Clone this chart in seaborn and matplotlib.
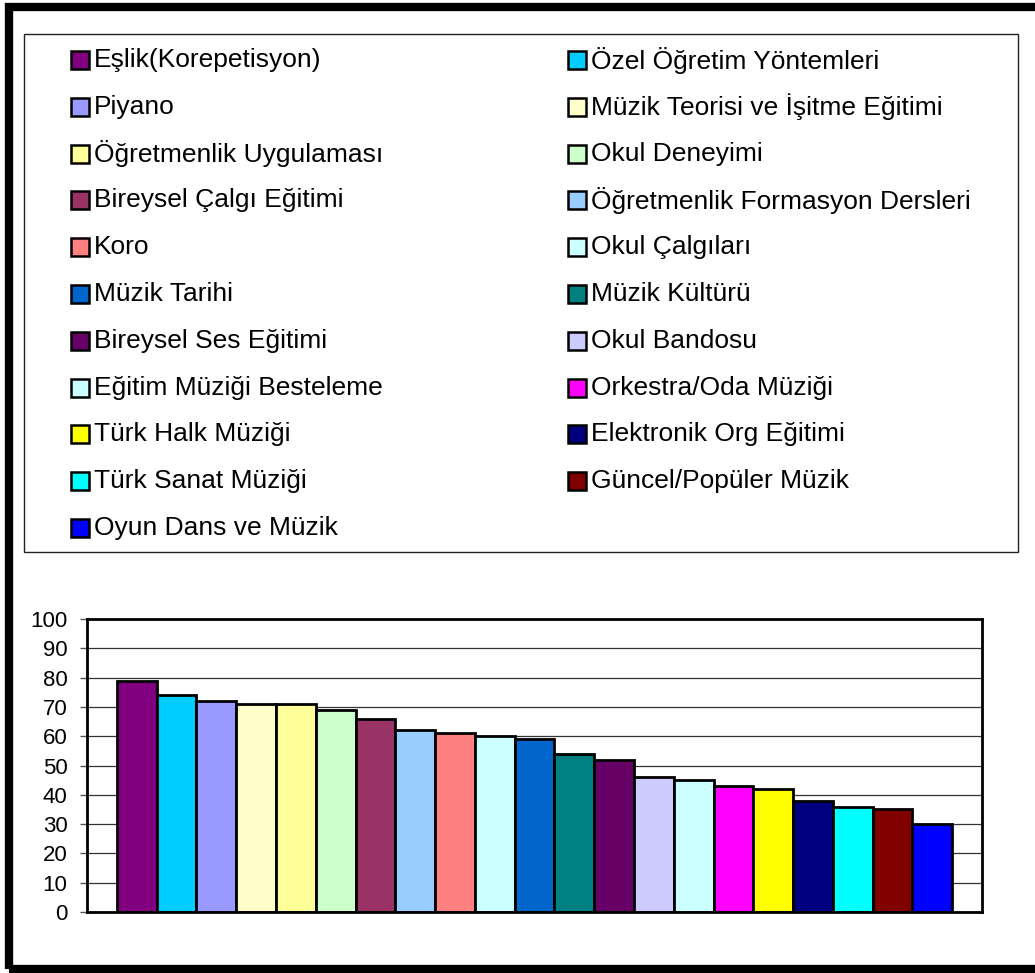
import matplotlib
matplotlib.use('Agg')
import matplotlib.pyplot as plt
from matplotlib.patches import Rectangle
import seaborn as sns

# Data
subjects = ['Eşlik(Korepetisyon)', 'Özel Öğretim Yöntemleri', 'Piyano',
            'Müzik Teorisi ve İşitme Eğitimi', 'Öğretmenlik Uygulaması', 'Okul Deneyimi',
            'Bireysel Çalgı Eğitimi', 'Öğretmenlik Formasyon Dersleri', 'Koro',
            'Okul Çalgıları', 'Müzik Tarihi', 'Müzik Kültürü', 'Bireysel Ses Eğitimi',
            'Okul Bandosu', 'Eğitim Müziği Besteleme', 'Orkestra/Oda Müziği',
            'Türk Halk Müziği', 'Elektronik Org Eğitimi', 'Türk Sanat Müziği',
            'Güncel/Popüler Müzik', 'Oyun Dans ve Müzik']
values = [79, 74, 72, 71, 71, 69, 66, 62, 61, 60, 59, 54, 52, 46, 45, 43, 42, 38, 36, 35, 30]
colors = ['#800080', '#00CCFF', '#9999FF', '#FFFFCC', '#FFFF99', '#CCFFCC',
          '#993366', '#99CCFF', '#FF8080', '#CCFFFF', '#0066CC', '#008080',
          '#660066', '#CCCCFF', '#CCFFFF', '#FF00FF', '#FFFF00', '#000080',
          '#00FFFF', '#800000', '#0000FF']
y_ticks = list(range(0, 101, 10))

sns.set_style('white')
plt.rcParams['font.family'] = ['Liberation Sans', 'DejaVu Sans']

W, H = 1035, 973
fig = plt.figure(figsize=(W / 100, H / 100), dpi=100)

def fx(px):
    return px / W

def fy(py):
    return 1 - py / H

# Outer frame (left, top, bottom visible; right edge runs off the picture)
fig.add_artist(Rectangle((fx(9), fy(969)), fx(1070) - fx(9), fy(7) - fy(969),
                         transform=fig.transFigure, fill=False,
                         edgecolor='black', linewidth=6, clip_on=False))

# Legend box
fig.add_artist(Rectangle((fx(24), fy(552)), fx(1018) - fx(24), fy(34) - fy(552),
                         transform=fig.transFigure, fill=False,
                         edgecolor='#222222', linewidth=1.0))

# Legend entries, filled row by row in two columns
for i, (name, color) in enumerate(zip(subjects, colors)):
    row, col = divmod(i, 2)
    cy = 60 + row * 46.8
    mx = 71 if col == 0 else 568
    fig.add_artist(Rectangle((fx(mx), fy(cy + 9)), fx(18), 18 / H,
                             transform=fig.transFigure, facecolor=color,
                             edgecolor='black', linewidth=1.8))
    fig.text(fx(mx + 23), fy(cy), name, fontsize=19, va='center', ha='left',
             color='black')

# Bar chart
ax = fig.add_axes([fx(87), fy(912), fx(982) - fx(87), fy(619) - fy(912)])
sns.barplot(x=subjects, y=values, hue=subjects, palette=colors, dodge=False,
            saturation=1, width=1, legend=False, edgecolor='black',
            linewidth=2.0, ax=ax)

ax.set_xlim(-1.25, len(subjects) + 0.25)
ax.set_ylim(0, 100)
ax.set_yticks(y_ticks)
ax.set_xticks([])
ax.set_xlabel('')
ax.set_ylabel('')
ax.set_axisbelow(True)
ax.yaxis.grid(True, color='#333333', linewidth=0.9)
ax.tick_params(axis='y', which='major', left=True, length=5, width=1,
               color='#555555', pad=9, labelsize=16, labelcolor='black')
for side in ax.spines.values():
    side.set_color('black')
    side.set_linewidth(2.0)

plt.savefig('out.png', dpi=100)
